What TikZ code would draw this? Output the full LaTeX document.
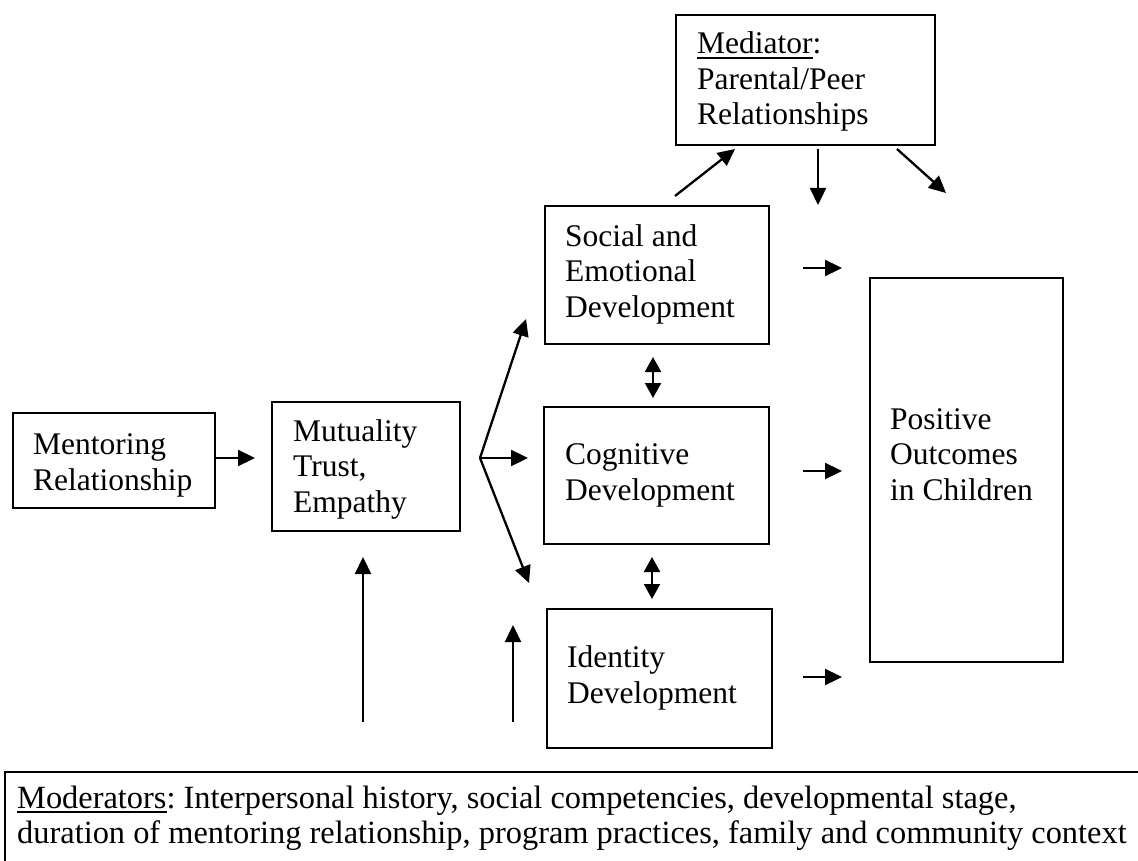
\documentclass[tikz,border=0pt]{standalone}
\usepackage{fontspec}
\setmainfont{Liberation Serif}
\usetikzlibrary{arrows.meta}
\frenchspacing
% underline drawn as a rule below the baseline
\newcommand\undl[1]{\setbox0=\hbox{#1}\rlap{\rule[-5pt]{\wd0}{1.8pt}}\box0}

\begin{document}
\begin{tikzpicture}[x=1pt,y=-1pt,
  box/.style={draw, line width=2pt, inner sep=0pt, outer sep=0pt, rectangle},
  % labels are placed by the baseline of their last line
  lbl/.style={inner sep=0pt, anchor=base west, align=left,
              font=\fontsize{31.5}{35.5}\selectfont},
  arr/.style={line width=2.3pt, -{Triangle[length=17pt,width=16pt]}},
  darr/.style={line width=2.3pt,
               {Triangle[length=15pt,width=16pt]}-{Triangle[length=15pt,width=16pt]}}]

\path[use as bounding box] (0,0) rectangle (1138,861);
\clip (0,0) rectangle (1138,861);

% boxes
\node[box, minimum width=202, minimum height=95]  (ment) at (114,460.5) {};
\node[box, minimum width=188, minimum height=129] (mut)  at (366,466.5) {};
\node[box, minimum width=259, minimum height=130] (med)  at (805.5,80) {};
\node[box, minimum width=224, minimum height=138] (soc)  at (657,275) {};
\node[box, minimum width=225, minimum height=137] (cog)  at (656.5,475.5) {};
\node[box, minimum width=225, minimum height=139] (ide)  at (659.5,678.5) {};
\node[box, minimum width=193, minimum height=384] (pos)  at (966.5,470) {};
\node[box, anchor=north west, minimum width=1200, minimum height=150] (mod) at (5,772) {};

% labels
\node[lbl] (ment-t) at (33,490)  {Mentoring\\Relationship};
\node[lbl] (mut-t)  at (293,512) {Mutuality\\Trust,\\Empathy};
\node[lbl] (med-t)  at (697,125) {\undl{Mediator}:\\Parental/Peer\\Relationships};
\node[lbl] (soc-t)  at (565,317) {Social and\\Emotional\\Development};
\node[lbl] (cog-t)  at (565,500) {Cognitive\\Development};
\node[lbl] (ide-t)  at (567,703) {Identity\\Development};
\node[lbl] (pos-t)  at (890,500) {Positive\\Outcomes\\in Children};
\node[lbl, font=\fontsize{32.4}{35.5}\selectfont] (mod-t) at (17,843.5)
  {\undl{Moderators}: Interpersonal history, social competencies, developmental stage,\\duration of mentoring relationship, program practices, family and community context};

% free ends of connectors
\coordinate (fan)   at (480,458);
\coordinate (fanU)  at (526,319);
\coordinate (fanR)  at (528,458);
\coordinate (fanD)  at (529,583);
\coordinate (up1a)  at (363,722);
\coordinate (up1b)  at (363,557);
\coordinate (up2a)  at (513,722);
\coordinate (up2b)  at (513,625);
\coordinate (sc1)   at (653,357);
\coordinate (sc2)   at (653,398);
\coordinate (ci1)   at (652,557);
\coordinate (ci2)   at (652,599);
\coordinate (r1a)   at (803,268);
\coordinate (r1b)   at (842,268);
\coordinate (r2a)   at (803,471);
\coordinate (r2b)   at (842,471);
\coordinate (r3a)   at (803,677);
\coordinate (r3b)   at (842,677);
\coordinate (m1a)   at (675,196);
\coordinate (m1b)   at (735,149);
\coordinate (m2a)   at (818,149);
\coordinate (m2b)   at (818,205);
\coordinate (m3a)   at (897,149);
\coordinate (m3b)   at (946,193);

% connectors
\draw[arr] (ment.east |- fan) -- (fan -| 255,0);
\draw[arr] (fan) -- (fanU);
\draw[arr] (fan) -- (fanR);
\draw[arr] (fan) -- (fanD);
\draw[arr] (up1a) -- (up1b);
\draw[arr] (up2a) -- (up2b);
\draw[darr] (sc1) -- (sc2);
\draw[darr] (ci1) -- (ci2);
\draw[arr] (r1a) -- (r1b);
\draw[arr] (r2a) -- (r2b);
\draw[arr] (r3a) -- (r3b);
\draw[arr] (m1a) -- (m1b);
\draw[arr] (m2a) -- (m2b);
\draw[arr] (m3a) -- (m3b);

\end{tikzpicture}
\end{document}
